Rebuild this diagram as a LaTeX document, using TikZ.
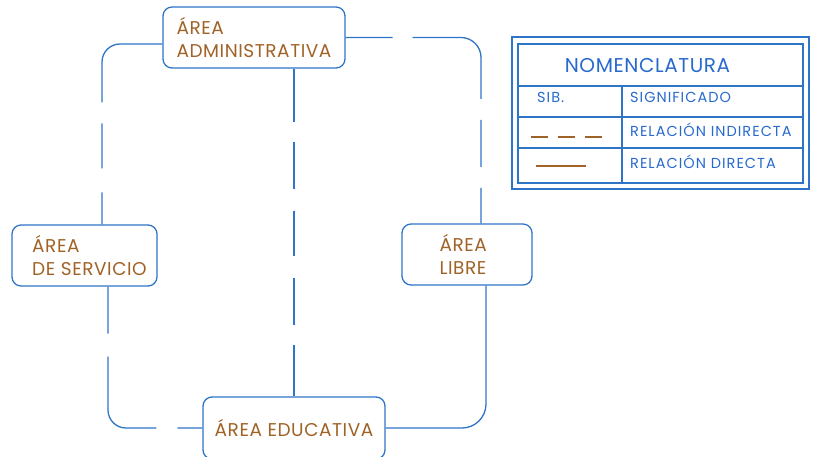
\documentclass[tikz,border=0pt]{standalone}
\usepackage{fontspec}
\setmainfont{Poppins}
\usetikzlibrary{calc}
\definecolor{lineblue}{RGB}{46,117,200}
\definecolor{labelbrown}{RGB}{160,98,38}
\definecolor{legendblue}{RGB}{40,105,205}
\begin{document}
\begin{tikzpicture}[x=1pt,y=-1pt,
  area/.style={draw=lineblue, line width=1.3pt, rounded corners=9pt, text=labelbrown,
    align=left, font=\fontsize{18.5}{23}\selectfont\addfontfeature{LetterSpace=3}, inner sep=0pt},
  link/.style={draw=lineblue, line width=1.3pt},
  frameline/.style={draw=lineblue, line width=1.1pt},
  cell/.style={text=legendblue, anchor=base west, inner sep=0pt,
    font=\fontsize{14.5}{16}\selectfont\addfontfeature{LetterSpace=7}},
  sample/.style={draw=labelbrown, line width=1.3pt},
]
\useasboundingbox (0,0) rectangle (821,457);

% areas
\node[area, minimum width=182pt, minimum height=61pt] (adm) at (254,37.5) {ÁREA\\ADMINISTRATIVA};
\node[area, minimum width=145pt, minimum height=61pt] (srv) at (84.5,255.5)
  {\hspace*{10pt}ÁREA\\\hspace*{10pt}DE SERVICIO};
\node[area, minimum width=130pt, minimum height=61pt] (lib) at (467,254.5)
  {ÁREA\\LIBRE\hspace*{8pt}};
\node[area, minimum width=182pt, minimum height=62pt] (edu) at (294,428) {ÁREA EDUCATIVA};

% relations
\draw[link, rounded corners=18pt, dash pattern=on 111pt off 21pt on 45pt off 24pt on 60pt]
  ($(adm.west)+(0,6.5)$) -| ($(srv.north)+(17.5,0)$);
\draw[link, rounded corners=20pt, dash pattern=on 47pt off 20pt on 121pt off 21pt on 47pt off 21pt on 60pt]
  (adm.east) -| ($(lib.north)+(14,0)$);
\draw[link, dash pattern=on 53pt off 20pt on 47pt off 22pt on 45pt off 22pt on 47pt off 20pt on 60pt]
  (edu.north |- adm.south) -- (edu.north);
\draw[link, rounded corners=18pt, dash pattern=on 47pt off 23pt on 112pt off 21pt on 40pt]
  ($(srv.south)+(23.5,0)$) |- (edu.west);
\draw[link, rounded corners=24pt]
  ($(lib.south)+(19,0)$) |- (edu.east);

% legend table
\coordinate (lgA) at (512,37);
\coordinate (lgB) at (809,189);
\coordinate (lgC) at (518,44);
\coordinate (lgD) at (803,183);
\draw[frameline] (lgA) rectangle (lgB);
\draw[frameline] (lgC) rectangle (lgD);
\draw[frameline] (518,86) -- (803,86);
\draw[frameline] (518,117) -- (803,117);
\draw[frameline] (518,148) -- (803,148);
\draw[frameline] (622,86) -- (622,183);

\node[cell, anchor=base, font=\fontsize{20}{22}\selectfont\addfontfeature{LetterSpace=3}] (hdr) at (647.5,73) {NOMENCLATURA};
\node[cell] (sib) at (537,103) {SIB.};
\node[cell] (sig) at (630,103) {SIGNIFICADO};
\node[cell] (ind) at (630,137) {RELACIÓN INDIRECTA};
\node[cell] (dir) at (630,168) {RELACIÓN DIRECTA};

\coordinate (dashA) at (531,137);
\coordinate (dashB) at (604,137);
\coordinate (solA) at (536,166);
\coordinate (solB) at (586,166);
\draw[sample, dash pattern=on 17pt off 10pt] (dashA) -- (dashB);
\draw[sample] (solA) -- (solB);
\end{tikzpicture}
\end{document}
